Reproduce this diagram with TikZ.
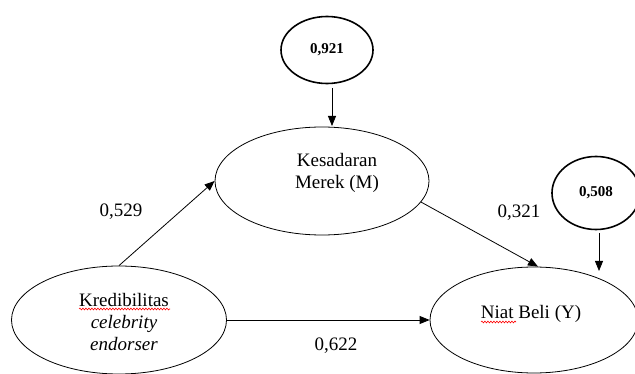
\documentclass[tikz,border=0pt]{standalone}
\usepackage{fontspec}
\setmainfont{Liberation Serif}
\usetikzlibrary{shapes.geometric,arrows.meta,decorations.pathmorphing}
\begin{document}
\begin{tikzpicture}[x=1pt,y=-1pt,
 ell/.style={draw, ellipse, line width=0.8pt, inner sep=0pt},
 err/.style={draw, ellipse, line width=1.6pt, inner sep=0pt, font=\fontsize{15}{17}\selectfont\bfseries},
 txt/.style={font=\fontsize{19}{22}\selectfont, align=center, inner sep=0pt},
 arr/.style={-{Triangle[length=10pt,width=8pt]}, line width=0.8pt},
 wavy/.style={red, line width=0.6pt, decorate, decoration={snake, amplitude=0.9pt, segment length=3pt}}]
\useasboundingbox (0,0) rectangle (635,374);
% latent variables
\node[ell, minimum width=214pt, minimum height=108pt] (kes) at (322,181) {};
\node[ell, minimum width=215pt, minimum height=108pt] (kred) at (119,320) {};
\node[ell, minimum width=208pt, minimum height=106pt] (niat) at (534,320) {};
% error terms
\node[err, minimum width=92pt, minimum height=67pt] (c1) at (327,50) {0,921};
\node[err, minimum width=88pt, minimum height=73pt] (c2) at (596,193) {0,508};
% texts
\node[txt] (kestxt) at (337,173) {Kesadaran\\Merek (M)};
\node[txt] (kredtxt) at (124,322) {Kredibilitas\\\textit{celebrity}\\\textit{endorser}};
\node[txt] (niattxt) at (531,314) {Niat Beli (Y)};
% path labels
\node[txt] (l1) at (121,212) {0,529};
\node[txt] (l2) at (519,213) {0,321};
\node[txt] (l3) at (336,346) {0,622};
% spell-check marks
\coordinate (w1a) at (79,309);
\coordinate (w1b) at (170,309);
\coordinate (w2a) at (481,322);
\coordinate (w2b) at (516,322);
\draw[wavy] (w1a) -- (w1b);
\draw[wavy] (w2a) -- (w2b);
% arrows
\coordinate (t1) at (332,126);
\coordinate (s1) at (332,88);
\coordinate (t2) at (599,271);
\coordinate (s2) at (599,233);
\draw[arr] (s1) -- (t1);
\draw[arr] (s2) -- (t2);
\draw[arr] (kred.north) -- (kes.west);
\draw[arr] (kes.-12) -- ([xshift=4pt]niat.north);
\draw[arr] (kred.east) -- (niat.west);
\end{tikzpicture}
\end{document}
